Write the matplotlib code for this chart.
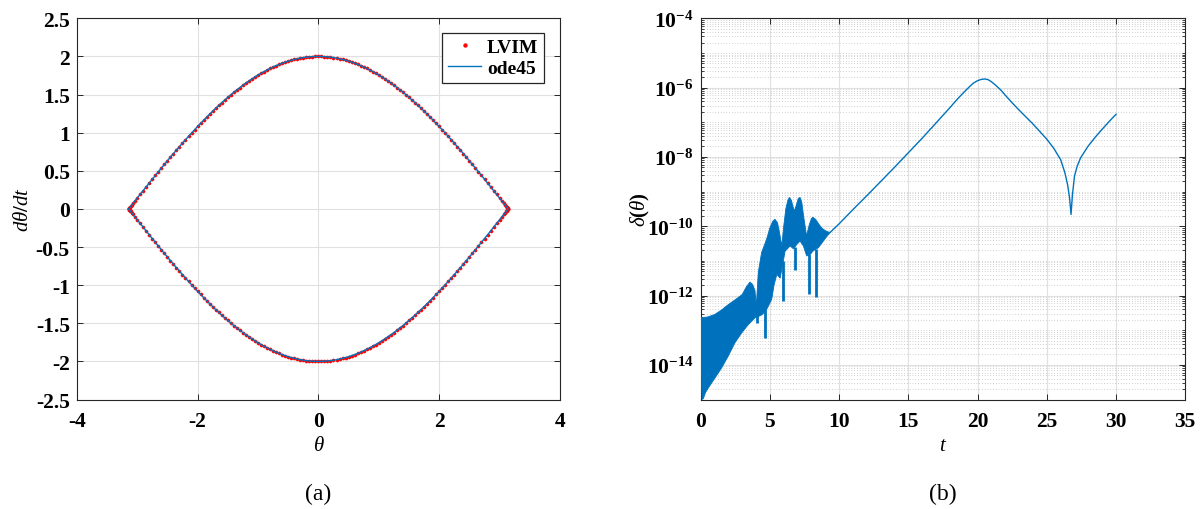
import numpy as np
import matplotlib
matplotlib.use("Agg")
import matplotlib.pyplot as plt
from matplotlib.ticker import FixedLocator, LogLocator, FuncFormatter, NullFormatter

# ---------------- data ----------------
# Separatrix, first quadrant: theta and d(theta)/dt
theta_q = [0.00, 0.05, 0.10, 0.15, 0.20, 0.25, 0.30, 0.35, 0.40, 0.45,
           0.50, 0.55, 0.60, 0.65, 0.70, 0.75, 0.80, 0.85, 0.90, 0.95,
           1.00, 1.05, 1.10, 1.15, 1.20, 1.25, 1.30, 1.35, 1.40, 1.45,
           1.50, 1.55, 1.60, 1.65, 1.70, 1.75, 1.80, 1.85, 1.90, 1.95,
           2.00, 2.05, 2.10, 2.15, 2.20, 2.25, 2.30, 2.35, 2.40, 2.45,
           2.50, 2.55, 2.60, 2.65, 2.70, 2.75, 2.80, 2.85, 2.90, 2.95,
           3.00, 3.04, 3.07, 3.09, 3.11, 3.12, 3.13, 3.135, 3.14]
omega_q = [2.000, 1.999, 1.998, 1.994, 1.990, 1.984, 1.978, 1.969, 1.960, 1.950,
           1.938, 1.925, 1.911, 1.895, 1.879, 1.861, 1.842, 1.822, 1.801, 1.779,
           1.755, 1.731, 1.705, 1.678, 1.651, 1.622, 1.592, 1.561, 1.530, 1.497,
           1.463, 1.429, 1.393, 1.357, 1.320, 1.282, 1.243, 1.204, 1.163, 1.122,
           1.081, 1.038, 0.995, 0.951, 0.907, 0.862, 0.817, 0.771, 0.725, 0.678,
           0.631, 0.583, 0.535, 0.487, 0.438, 0.389, 0.340, 0.291, 0.241, 0.191,
           0.141, 0.102, 0.072, 0.052, 0.032, 0.022, 0.012, 0.007, 0.002]

# Error delta(theta) vs t, log10 values
# oscillating part: upper and lower envelope
t_upper = [0.0, 0.5, 1.0, 1.5, 2.0, 2.5, 3.0, 3.3, 3.56, 3.75, 3.92, 4.02, 4.16,
           4.4, 4.76, 5.0, 5.2, 5.37, 5.55, 5.7, 5.86, 6.0, 6.15, 6.3, 6.41,
           6.55, 6.68, 6.78, 6.9, 7.05, 7.18, 7.3, 7.45, 7.65, 7.85, 8.0, 8.1,
           8.3, 8.5, 8.7, 8.86, 9.1, 9.35]
log_upper = [-12.64, -12.62, -12.55, -12.42, -12.26, -12.12, -11.97, -11.75, -11.61,
             -11.68, -11.85, -12.3, -11.34, -10.76, -10.38, -10.05, -9.86, -9.80,
             -9.90, -10.2, -10.57, -10.0, -9.5, -9.25, -9.17, -9.25, -9.45, -9.56,
             -9.4, -9.2, -9.17, -9.3, -9.75, -10.28, -9.95, -9.78, -9.74, -9.8,
             -9.92, -10.03, -10.09, -10.15, -10.18]
t_lower = [0.0, 0.1, 0.2, 0.35, 0.55, 1.03, 1.51, 1.99, 2.48, 2.96, 3.44, 3.93,
           4.2, 4.45, 4.77, 5.13, 5.3, 5.5, 5.74, 6.1, 6.46, 6.7, 7.0, 7.18,
           7.42, 7.66, 7.95, 8.1, 8.5, 8.86, 9.1, 9.35]
log_lower = [-14.0, -15.0, -14.97, -14.8, -14.67, -14.38, -14.09, -13.75, -13.36,
             -13.08, -12.84, -12.64, -12.6, -12.55, -12.4, -12.11, -11.7, -11.39,
             -11.5, -10.72, -10.57, -10.65, -10.5, -10.43, -10.57, -10.86, -10.8,
             -10.72, -10.62, -10.43, -10.3, -10.18]
# narrow dips below the band
t_dip = [4.05, 4.65, 5.93, 6.82, 7.85, 8.34]
log_dip_top = [-12.5, -12.4, -11.0, -10.6, -10.8, -10.65]
log_dip_bottom = [-12.78, -13.22, -12.16, -11.25, -11.97, -12.03]

# smooth part
t_smooth = [9.35, 10, 11, 12, 13, 14, 15, 16, 17, 18, 18.5, 19, 19.4, 19.7, 20.0,
            20.25, 20.5, 20.75, 21.0, 21.3, 21.7, 22.0, 22.5, 23.0, 23.5, 24.0,
            24.5, 25.0, 25.5, 26.0, 26.3, 26.5, 26.65, 26.75, 26.85, 27.0, 27.2,
            27.45, 28, 28.5, 29, 29.5, 30]
log_smooth = [-10.18, -9.93, -9.52, -9.12, -8.71, -8.30, -7.88, -7.46, -7.02, -6.58,
              -6.35, -6.14, -5.98, -5.87, -5.80, -5.765, -5.75, -5.77, -5.83, -5.93,
              -6.08, -6.22, -6.44, -6.65, -6.85, -7.05, -7.27, -7.49, -7.75, -8.08,
              -8.45, -8.8, -9.2, -9.66, -9.1, -8.55, -8.26, -8.02, -7.68, -7.43,
              -7.2, -6.98, -6.77]

theta_ticks = [-4, -2, 0, 2, 4]
omega_ticks = [-2.5, -2, -1.5, -1, -0.5, 0, 0.5, 1, 1.5, 2, 2.5]
t_ticks = [0, 5, 10, 15, 20, 25, 30, 35]
err_ticks = [1e-14, 1e-12, 1e-10, 1e-8, 1e-6, 1e-4]

# ---------------- style ----------------
plt.rcParams["font.family"] = ["Liberation Serif", "DejaVu Serif"]
plt.rcParams["mathtext.fontset"] = "custom"
plt.rcParams["mathtext.rm"] = "Liberation Serif:bold"
plt.rcParams["mathtext.bf"] = "Liberation Serif:bold"
plt.rcParams["mathtext.it"] = "Liberation Serif:italic"
plt.rcParams["axes.unicode_minus"] = False

BLUE = "#0072BD"
RED = "#FF0000"
SPINE = "#262626"
GRID = "#e0e0e0"
TICK_FS = 15.5

fig = plt.figure(figsize=(12.01, 5.10), dpi=100)
axA = fig.add_axes([0.0639, 0.2147, 0.4024, 0.7475])
axB = fig.add_axes([0.5834, 0.2147, 0.4035, 0.7475])


def style_axes(ax):
    for s in ax.spines.values():
        s.set_color(SPINE)
        s.set_linewidth(0.8)
    ax.tick_params(which="both", direction="in", top=True, right=True,
                   colors=SPINE, labelcolor="black")
    ax.tick_params(which="major", length=4, width=0.7, labelsize=TICK_FS, pad=5)
    ax.tick_params(axis="x", which="major", pad=8)
    ax.tick_params(which="minor", length=2.2, width=0.6)
    ax.set_axisbelow(True)
    ax.grid(True, which="major", color=GRID, linewidth=0.8)
    for lab in ax.get_xticklabels() + ax.get_yticklabels():
        lab.set_fontweight("bold")


# ---------------- (a) phase portrait ----------------
th = np.asarray(theta_q)
om = np.asarray(omega_q)
upper_th = np.concatenate([-th[::-1], th[1:]])
upper_om = np.concatenate([om[::-1], om[1:]])
loop_th = np.concatenate([upper_th, upper_th[::-1]])
loop_om = np.concatenate([upper_om, -upper_om[::-1]])

axA.plot(loop_th, loop_om, linestyle="none", marker="o", markersize=2.3,
         markerfacecolor=RED, markeredgecolor=RED, markeredgewidth=0.3,
         label="LVIM", zorder=3)
axA.plot(loop_th, loop_om, color=BLUE, linewidth=1.0, label="ode45", zorder=4)

axA.set_xlim(-4, 4)
axA.set_ylim(-2.5, 2.5)
axA.xaxis.set_major_locator(FixedLocator(theta_ticks))
axA.yaxis.set_major_locator(FixedLocator(omega_ticks))
axA.xaxis.set_major_formatter(FuncFormatter(lambda v, p: f"{v:g}"))
axA.yaxis.set_major_formatter(FuncFormatter(lambda v, p: f"{v:g}"))
style_axes(axA)
axA.set_xlabel(r"$\theta$", fontsize=15)
axA.set_ylabel(r"$d\theta/dt$", fontsize=15)
axA.xaxis.set_label_coords(0.5, -0.095)
axA.yaxis.set_label_coords(-0.09, 0.5)

leg = axA.legend(loc="upper right", bbox_to_anchor=(0.967, 0.962),
                 bbox_transform=axA.transAxes, borderaxespad=0,
                 fancybox=False, framealpha=1, edgecolor=SPINE,
                 prop={"family": "Liberation Serif", "weight": "bold", "size": 14},
                 handlelength=1.7, handletextpad=0.3, labelspacing=0.15,
                 borderpad=0.3, markerscale=1.2)
leg.get_frame().set_linewidth(0.9)

# ---------------- (b) error ----------------
axB.set_yscale("log")
tu = np.asarray(t_upper)
tl = np.asarray(t_lower)
poly_t = np.concatenate([tu, tl[::-1]])
poly_v = np.concatenate([10.0 ** np.asarray(log_upper), 10.0 ** np.asarray(log_lower)[::-1]])
axB.fill(poly_t, poly_v, color=BLUE, linewidth=0.6, edgecolor=BLUE, zorder=3)
axB.vlines(t_dip, 10.0 ** np.asarray(log_dip_bottom), 10.0 ** np.asarray(log_dip_top),
           color=BLUE, linewidth=2.0, zorder=3)
axB.plot(t_smooth, 10.0 ** np.asarray(log_smooth), color=BLUE, linewidth=1.0, zorder=3)

axB.set_xlim(0, 35)
axB.set_ylim(1e-15, 1e-4)
axB.xaxis.set_major_locator(FixedLocator(t_ticks))
axB.yaxis.set_major_locator(FixedLocator(err_ticks))
axB.yaxis.set_minor_locator(LogLocator(base=10, subs=np.arange(1, 10), numticks=40))
axB.yaxis.set_minor_formatter(NullFormatter())
axB.yaxis.set_major_formatter(
    FuncFormatter(lambda v, p: r"$\mathbf{10^{%d}}$" % int(round(np.log10(v)))))
style_axes(axB)
axB.grid(True, which="minor", axis="y", color="#a8a8a8", linewidth=0.5,
         linestyle=(0, (1, 3)))
axB.set_xlabel(r"$t$", fontsize=15)
axB.set_ylabel(r"$\delta(\theta)$", fontsize=15)
axB.xaxis.set_label_coords(0.5, -0.095)
axB.yaxis.set_label_coords(-0.10, 0.5)

# panel captions
fig.text(318 / 1201, 1 - 494 / 510, "(a)", ha="center", va="center", fontsize=17)
fig.text(943 / 1201, 1 - 494 / 510, "(b)", ha="center", va="center", fontsize=17)

fig.savefig("out.png", dpi=100)
